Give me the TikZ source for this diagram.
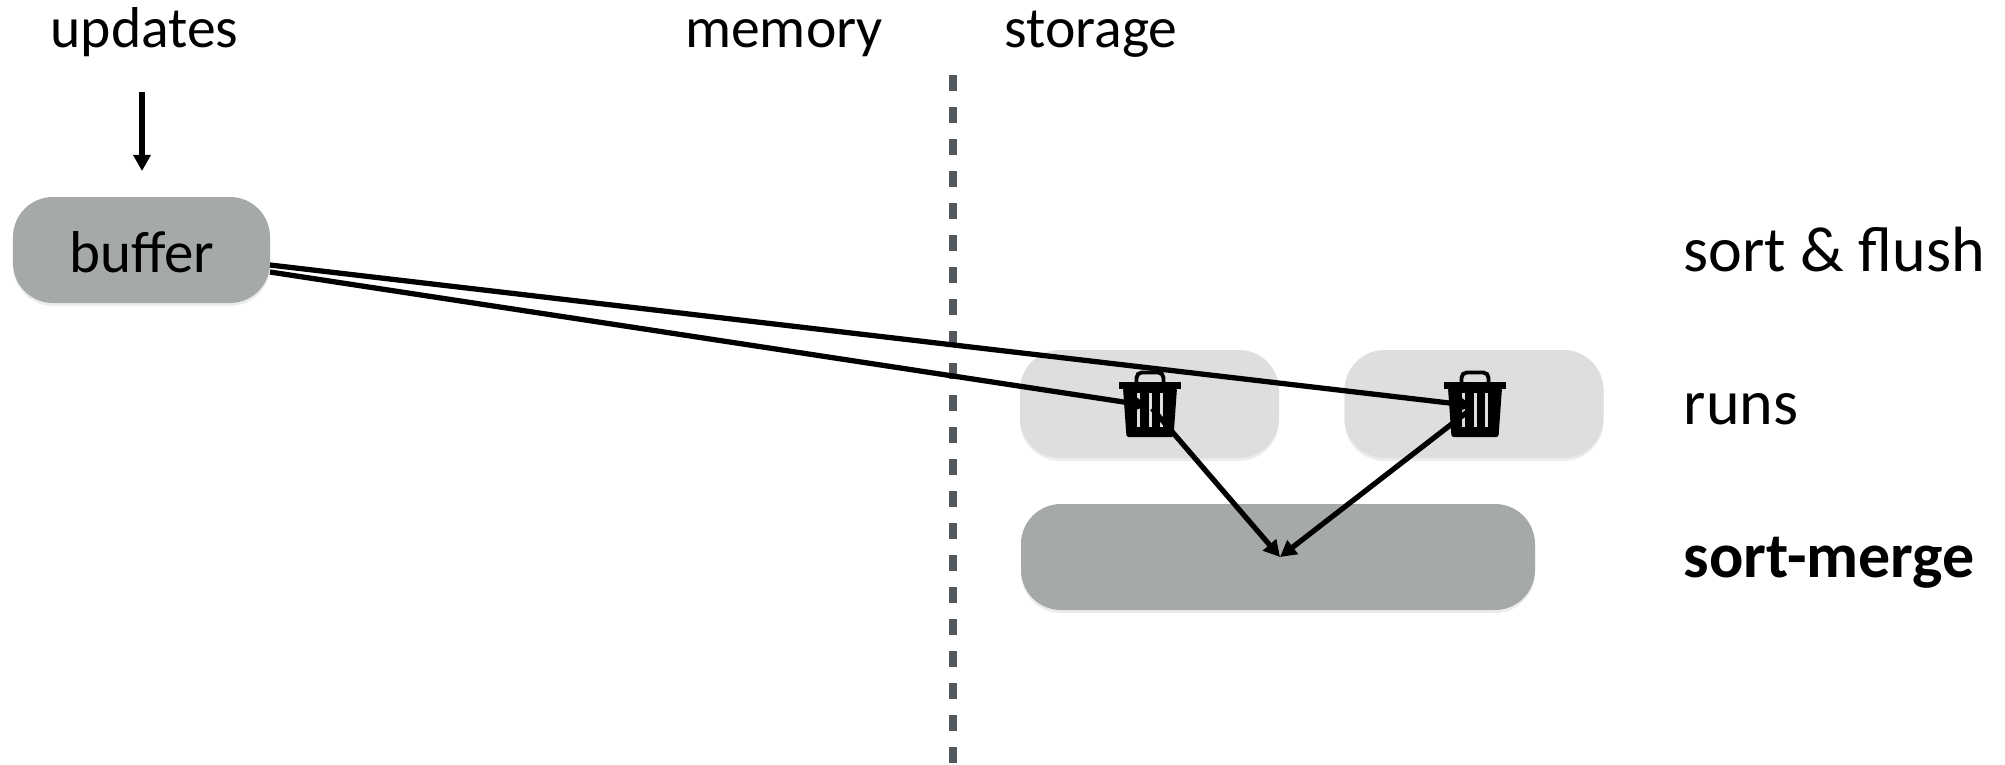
\documentclass[tikz,border=0pt]{standalone}
\usepackage{fontspec}
\setmainfont{Carlito}
\usetikzlibrary{shadows,arrows.meta}
\definecolor{boxdark}{HTML}{A5A9A7}
\definecolor{boxlight}{HTML}{DDDEE0}
\definecolor{dashgray}{HTML}{54585F}
\newcommand{\trashbin}[1]{%
\fill (#1) ++(-0.31,0.24) rectangle ++(0.62,-0.07);
\fill[rounded corners=0.5pt] (#1) ++(-0.27,0.18) -- ++(0.54,0) -- ++(-0.035,-0.49) -- ++(-0.47,0) -- cycle;
\draw[line width=1.1pt,rounded corners=1.5pt] (#1) ++(-0.135,0.24) -- ++(0,0.095) -- ++(0.27,0) -- ++(0,-0.095);
\foreach \slit in {-0.12,0,0.11}
  \fill[boxlight] (#1) ++(\slit-0.015,0.13) -- ++(0.03,0) -- ++(0,-0.34) -- ++(-0.03,0) -- cycle;
}
\tikzset{
  block/.style={rounded corners=0.4cm,inner sep=0pt,anchor=center,drop shadow={shadow xshift=0cm,shadow yshift=-0.03cm,opacity=0.15}},
  darkblock/.style={block,fill=boxdark},
  lightblock/.style={block,fill=boxlight},
  flow/.style={line width=1.5pt,-{Stealth[length=4.6pt,width=4.8pt,inset=0pt]}},
  caption/.style={anchor=base,inner sep=0pt,font=\fontsize{16.4}{18}\selectfont},
  sidelabel/.style={anchor=base west,inner sep=0pt,font=\fontsize{18.2}{20}\selectfont}
}
\begin{document}
\begin{tikzpicture}
\useasboundingbox (0,0) rectangle (20.05,7.64);

\node[caption]   (updates)   at ( 1.445,7.17) {updates};
\node[caption]   (memory)    at ( 7.84,7.17) {memory};
\node[caption]   (storage)   at (10.91,7.17) {storage};
\coordinate      (updatesIn) at ( 1.42,6.72);
\coordinate      (updatesEnd) at ( 1.42,5.93);

\node[darkblock,minimum width=2.57cm,minimum height=1.06cm]  (buffer)   at ( 1.415,5.14) {};
\node[lightblock,minimum width=2.59cm,minimum height=1.08cm] (runOne)   at (11.495,3.60) {};
\node[lightblock,minimum width=2.59cm,minimum height=1.08cm] (runTwo)   at (14.74,3.60) {};
\node[darkblock,minimum width=5.14cm,minimum height=1.06cm]  (merge)    at (12.78,2.07) {};
\node[caption,font=\fontsize{16.8}{18}\selectfont] (bufferText) at (1.42,4.92) {buffer};

\node[sidelabel] (sortFlush) at (16.83,4.93) {sort \& flush};
\node[sidelabel] (runsText)  at (16.83,3.40) {runs};
\node[sidelabel,font=\fontsize{18.2}{20}\selectfont\bfseries] (mergeText) at (16.83,1.87) {sort-merge};

\coordinate (divideTop)    at (9.53,6.89);
\coordinate (divideBottom) at (9.53,0);
\coordinate (bufferOutOne) at (2.70,4.92);
\coordinate (bufferOutTwo) at (2.70,4.99);
\coordinate (mergeIn)      at (12.80,2.07);
\node[inner sep=0pt] (trashOne) at (11.50,3.58) {};
\node[inner sep=0pt] (trashTwo) at (14.75,3.58) {};

\draw[dashgray,line width=2.27pt,dash pattern=on 4.55pt off 4.55pt] (divideTop) -- (divideBottom);

\trashbin{trashOne}
\trashbin{trashTwo}

\draw[flow] (updatesIn) -- (updatesEnd);
\draw[flow] (bufferOutOne) -- (trashOne);
\draw[flow] (bufferOutTwo) -- (trashTwo);
\draw[flow] (trashOne) -- (mergeIn);
\draw[flow] (trashTwo) -- (mergeIn);
\end{tikzpicture}
\end{document}
